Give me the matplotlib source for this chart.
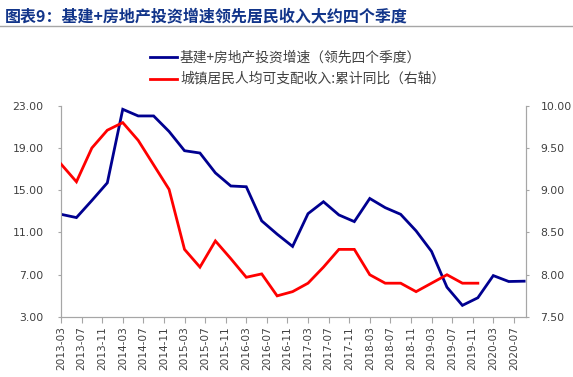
import numpy as np
import matplotlib
matplotlib.use('Agg')
import matplotlib.pyplot as plt
from matplotlib.lines import Line2D

plt.rcParams['font.family'] = ['Noto Sans CJK SC', 'DejaVu Sans']

# 基建+房地产投资增速(领先四个季度), quarterly from 2013-03 to 2020-09
invest = [12.72, 12.41, 14.03, 15.70, 22.66, 22.03, 22.03, 20.56, 18.74, 18.52,
          16.64, 15.40, 15.33, 12.10, 10.84, 9.68, 12.78, 13.91, 12.66, 12.03,
          14.22, 13.35, 12.72, 11.15, 9.21, 5.82, 4.10, 4.82, 6.92, 6.36, 6.39]
# 城镇居民人均可支配收入:累计同比, quarterly from 2013-03 to 2019-12
income = [9.31, 9.10, 9.50, 9.71, 9.80, 9.59, 9.30, 9.01, 8.30, 8.09,
          8.40, 8.19, 7.97, 8.01, 7.75, 7.80, 7.90, 8.09, 8.30, 8.30,
          8.00, 7.90, 7.90, 7.80, 7.90, 8.00, 7.90, 7.90]
xlabels = ['2013-03', '2013-07', '2013-11', '2014-03', '2014-07', '2014-11',
           '2015-03', '2015-07', '2015-11', '2016-03', '2016-07', '2016-11',
           '2017-03', '2017-07', '2017-11', '2018-03', '2018-07', '2018-11',
           '2019-03', '2019-07', '2019-11', '2020-03', '2020-07']
left_ticks = [3, 7, 11, 15, 19, 23]
right_ticks = [7.5, 8.0, 8.5, 9.0, 9.5, 10.0]
names = ['基建+房地产投资增速（领先四个季度）', '城镇居民人均可支配收入:累计同比（右轴）']

blue = '#000090'
red = '#FF0000'
grey = '#A6A6A6'
txt = '#404040'

W, H = 573, 377
fig = plt.figure(figsize=(5.73, 3.77), dpi=100)
ax = fig.add_axes([61/W, 1-317/H, (525.7-61)/W, (317-105.7)/H])
ax2 = ax.twinx()

# x in months since 2013-03
x1 = np.arange(len(invest))*3
x2 = np.arange(len(income))*3
ax.plot(x1, invest, color=blue, lw=2.0, solid_joinstyle='miter', zorder=3)
ax2.plot(x2, income, color=red, lw=2.0, solid_joinstyle='miter', zorder=3)

ax.set_xlim(0, 90.3)
ax.set_ylim(3, 23)
ax2.set_ylim(7.5, 10)
ax.set_xticks(np.arange(len(xlabels))*4)
ax.set_xticklabels(xlabels, rotation=90, fontsize=7.6, color=txt, family='DejaVu Sans')
ax.set_yticks(left_ticks)
ax.set_yticklabels(['%.2f' % v for v in left_ticks], fontsize=7.8, color=txt, family='DejaVu Sans')
ax2.set_yticks(right_ticks)
ax2.set_yticklabels(['%.2f' % v for v in right_ticks], fontsize=7.8, color=txt, family='DejaVu Sans')

for a in (ax, ax2):
    a.spines['top'].set_visible(False)
    for s in ('left', 'right', 'bottom'):
        a.spines[s].set_color(grey)
        a.spines[s].set_linewidth(0.8)
ax.tick_params(axis='x', direction='out', length=4.5, width=0.8, color=grey, pad=2)
ax.tick_params(axis='y', direction='out', length=2.5, width=0.8, color=grey, pad=10)
ax2.tick_params(axis='y', direction='out', length=2.5, width=0.8, color=grey, pad=8)

# title and rule
fig.text(0.008, 1-16/H, '图表9：基建+房地产投资增速领先居民收入大约四个季度',
         fontsize=11.5, fontweight='bold', color='#12358A', va='center', ha='left')
fig.add_artist(Line2D([0, 1], [1-26/H, 1-26/H], color=grey, lw=1.0))

# legend, drawn by hand
for yy, c, name in zip([57, 78.5], [blue, red], names):
    fig.add_artist(Line2D([150/W, 177/W], [1-yy/H, 1-yy/H], color=c, lw=2.0))
    fig.text(180/W, 1-yy/H, name, fontsize=9.9, color=txt, va='center', ha='left')

fig.savefig('out.png', dpi=100)
